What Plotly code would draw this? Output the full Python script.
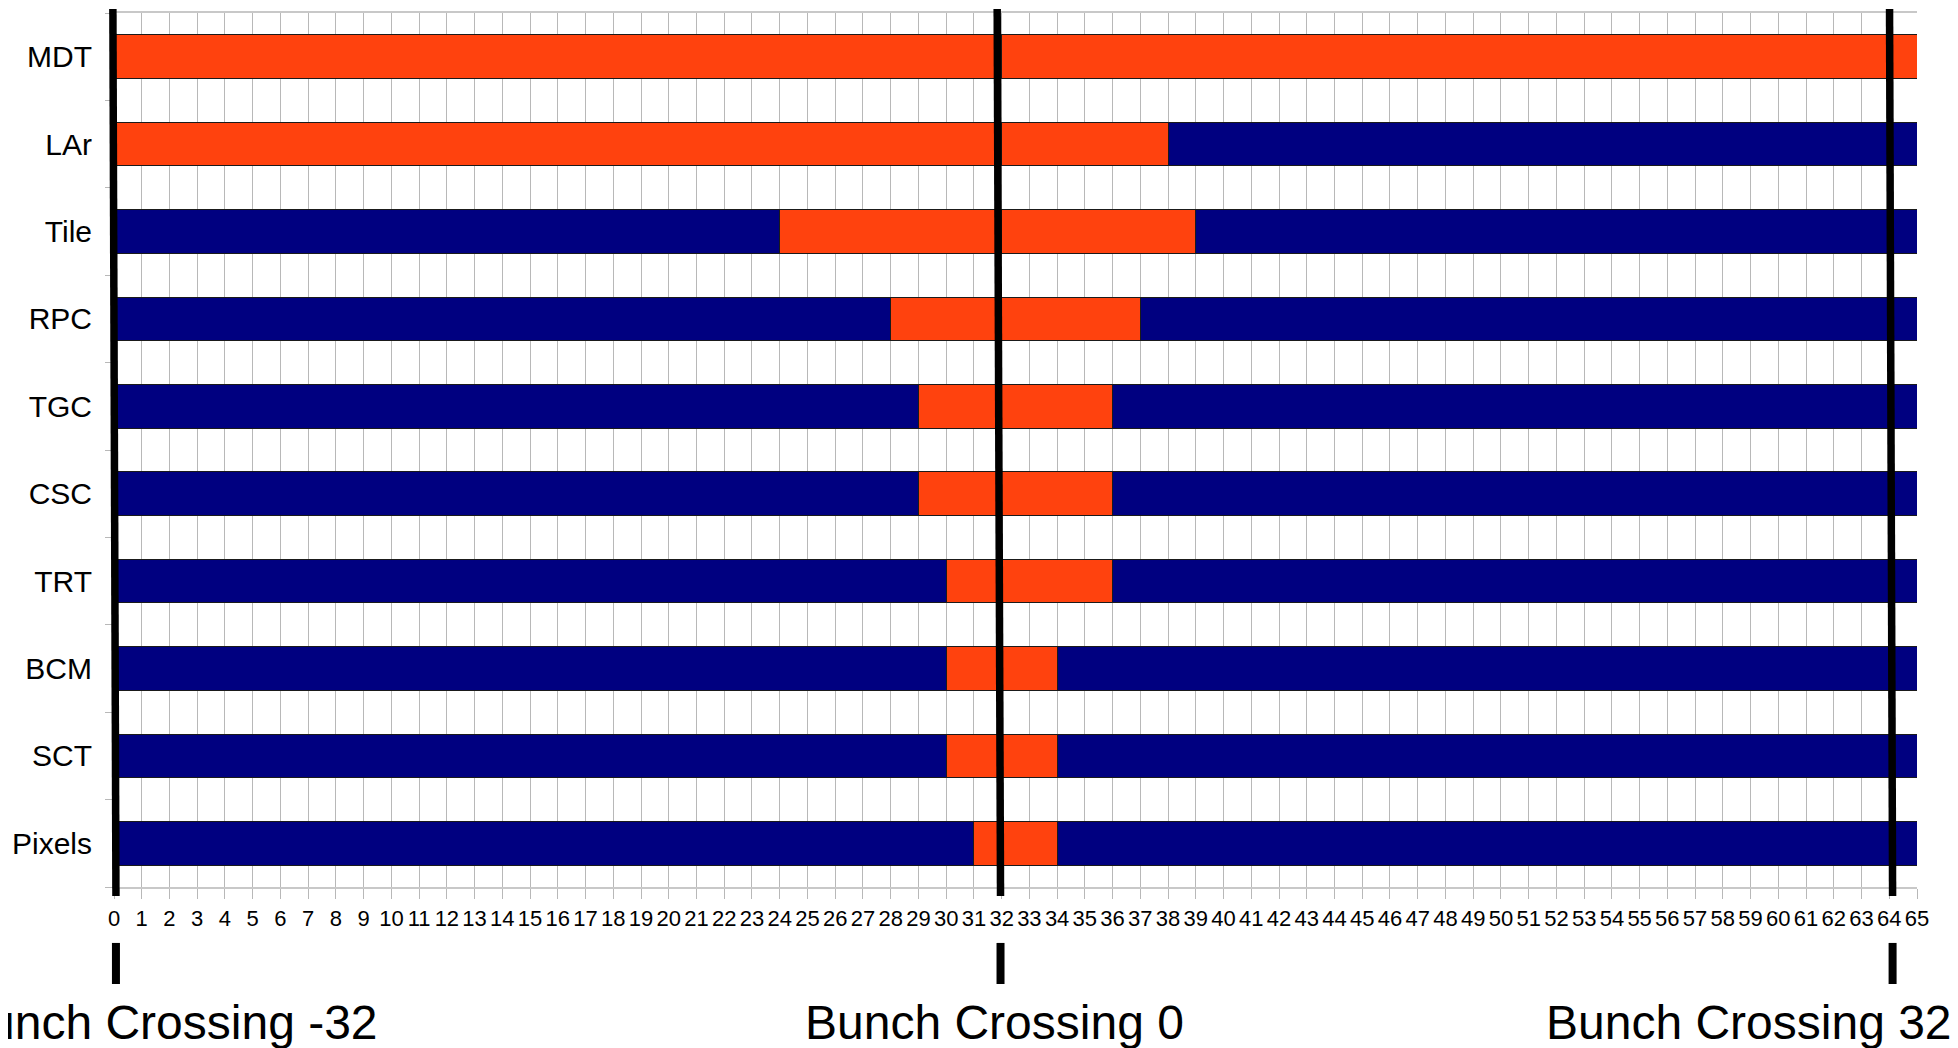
import plotly.graph_objects as go

# ---- data ----
detectors = ["MDT", "LAr", "Tile", "RPC", "TGC", "CSC", "TRT", "BCM", "SCT", "Pixels"]
readout_start = [0, 0, 24, 28, 29, 29, 30, 30, 30, 31]
readout_end = [65, 38, 39, 37, 36, 36, 36, 34, 34, 34]
window_total = 65
center_bc = 32
x_ticks = list(range(0, 66))
crossing_positions = [0, 32, 64]
crossing_labels = ["Bunch Crossing -32", "Bunch Crossing 0", "Bunch Crossing 32"]
label_x = [1.92, 31.76, 58.94]
# slight tilt of the hand-drawn marker lines (top / bottom offsets)
tilt_top = [-0.04, -0.16, 0.01]
tilt_bottom = [0.07, -0.04, 0.12]

BLUE = "#000080"
ORANGE = "#FF420E"
EDGE = "#1a1a1a"
REG = "Liberation Sans, Arial, sans-serif"

n = len(detectors)
ypos = [n - 1 - i for i in range(n)]

seg_blue1 = [s for s in readout_start]
seg_or1 = [center_bc - s for s in readout_start]
seg_or2 = [e - center_bc for e in readout_end]
seg_blue2 = [window_total - e for e in readout_end]

fig = go.Figure()
for vals, col in [(seg_blue1, BLUE), (seg_or1, ORANGE), (seg_or2, ORANGE), (seg_blue2, BLUE)]:
    fig.add_trace(go.Bar(
        x=vals, y=ypos, orientation="h", width=0.5,
        marker=dict(color=col, line=dict(color=EDGE, width=1)),
        showlegend=False, hoverinfo="skip",
    ))


def px(v):
    return v / window_total


shapes = []
for c, tt, tb in zip(crossing_positions, tilt_top, tilt_bottom):
    shapes.append(dict(type="line", xref="paper", yref="paper",
                       x0=px(c + tt), x1=px(c + tb), y0=1.0046, y1=-0.0103,
                       line=dict(color="black", width=7.5), layer="above"))
    shapes.append(dict(type="line", xref="paper", yref="paper",
                       x0=px(c + tb), x1=px(c + tb), y0=-0.064, y1=-0.111,
                       line=dict(color="black", width=8), layer="above"))

annotations = []
for lx, txt in zip(label_x, crossing_labels):
    annotations.append(dict(x=px(lx), y=-0.1545, xref="paper", yref="paper", text=txt,
                            showarrow=False, xanchor="center", yanchor="middle",
                            font=dict(family=REG, size=48, color="black")))

fig.update_layout(
    barmode="stack",
    width=1950, height=1040,
    margin=dict(l=106, r=41, t=5, b=161, autoexpand=False),
    paper_bgcolor="white", plot_bgcolor="white",
    shapes=shapes, annotations=annotations,
    xaxis=dict(range=[0, window_total], tickmode="array", tickvals=x_ticks,
               ticktext=[str(v) for v in x_ticks], tickangle=0, automargin=False,
               showgrid=True, gridcolor="#b8b8b8", gridwidth=1,
               ticks="outside", ticklen=10, tickcolor="#b8b8b8", tickwidth=1,
               showline=True, linecolor="#c8c8c8", linewidth=2, mirror=True,
               zeroline=False, ticklabelstandoff=1,
               tickfont=dict(family=REG, size=22, color="black")),
    yaxis=dict(range=[-0.5, n - 0.5], tickmode="array", tickvals=ypos,
               ticktext=detectors, ticks="", showgrid=False, zeroline=False,
               showline=False, ticklabelstandoff=21, automargin=False,
               tickfont=dict(family=REG, size=30, color="black"),
               minor=dict(tickvals=[v - 0.5 for v in range(n + 1)], ticks="outside",
                          ticklen=8, tickcolor="#b8b8b8", tickwidth=1, showgrid=False)),
)

fig.write_html("out.html")
